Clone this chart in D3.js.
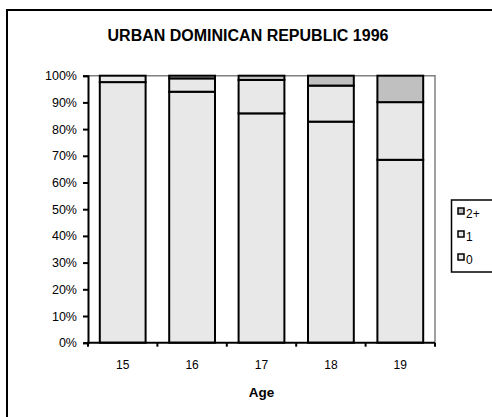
<!DOCTYPE html>
<html>
<head>
<meta charset="utf-8">
<script src="https://cdn.jsdelivr.net/npm/d3@7/dist/d3.min.js"></script>
<style>
  html, body { margin: 0; padding: 0; background: #fff; }
  svg { display: block; font-family: "Liberation Sans", Arial, sans-serif; }
</style>
</head>
<body>
<svg id="chart" width="492" height="417"></svg>
<script>
// Share of women by number of children, per age
const ages = ["15", "16", "17", "18", "19"];
const seriesNames = ["0", "1", "2+"];
const zero = [97.6, 94.0, 85.9, 82.8, 68.5];
const one = [2.4, 5.0, 12.5, 13.5, 21.6];
const twoPlus = [0.0, 1.0, 1.6, 3.7, 9.9];
const yTicks = [0, 10, 20, 30, 40, 50, 60, 70, 80, 90, 100];
const fills = { "0": "#e8e8e8", "1": "#e8e8e8", "2+": "#c0c0c0" };

const rows = ages.map((a, i) => ({ age: a, "0": zero[i], "1": one[i], "2+": twoPlus[i] }));
const stacked = d3.stack().keys(seriesNames)(rows);

const svg = d3.select("#chart");
const plot = { left: 88, right: 435, top: 75.7, bottom: 342.7 };

// outer frame (runs past the right and bottom edges)
svg.append("rect")
  .attr("x", 7).attr("y", 10).attr("width", 520).attr("height", 440)
  .attr("fill", "none").attr("stroke", "#000").attr("stroke-width", 2);

svg.append("text")
  .attr("x", 248).attr("y", 41)
  .attr("text-anchor", "middle")
  .attr("font-size", 16).attr("font-weight", "bold")
  .text("URBAN DOMINICAN REPUBLIC 1996");

const x = d3.scaleBand().domain(ages)
  .range([plot.left, plot.right])
  .paddingInner(0.34).paddingOuter(0.17);
const y = d3.scaleLinear().domain([0, 100]).range([plot.bottom, plot.top]);

// plot area border on top and right
svg.append("path")
  .attr("d", `M${plot.left},${plot.top}H${plot.right}V${plot.bottom}`)
  .attr("fill", "none").attr("stroke", "#808080").attr("stroke-width", 1.5);

// stacked bars
svg.append("g").selectAll("g")
  .data(stacked).join("g")
  .attr("fill", d => fills[d.key])
  .selectAll("rect")
  .data(d => d).join("rect")
  .attr("x", d => x(d.data.age))
  .attr("width", x.bandwidth())
  .attr("y", d => y(d[1]))
  .attr("height", d => y(d[0]) - y(d[1]))
  .attr("stroke", "#000").attr("stroke-width", 2);

// y axis
const yAxis = svg.append("g")
  .attr("transform", `translate(${plot.left},0)`)
  .call(d3.axisLeft(y).tickValues(yTicks).tickFormat(d => d + "%").tickSize(5).tickPadding(6));
yAxis.select(".domain").attr("stroke", "#000").attr("stroke-width", 2);
yAxis.selectAll(".tick line").attr("stroke", "#000").attr("stroke-width", 2);
yAxis.selectAll("text").attr("font-size", 12.5).attr("fill", "#000")
  .attr("font-family", "Liberation Sans, Arial, sans-serif");

// x axis: ticks sit between categories
const boundaries = d3.range(ages.length + 1).map(i => plot.left + i * (plot.right - plot.left) / ages.length);
const xAxisG = svg.append("g");
xAxisG.append("line")
  .attr("x1", plot.left - 1).attr("x2", plot.right)
  .attr("y1", plot.bottom).attr("y2", plot.bottom)
  .attr("stroke", "#000").attr("stroke-width", 2);
xAxisG.selectAll("line.tk").data(boundaries).join("line")
  .attr("class", "tk")
  .attr("x1", d => d).attr("x2", d => d)
  .attr("y1", plot.bottom).attr("y2", plot.bottom + 4)
  .attr("stroke", "#000").attr("stroke-width", 2);
xAxisG.selectAll("text").data(ages).join("text")
  .attr("x", d => x(d) + x.bandwidth() / 2)
  .attr("y", 369)
  .attr("text-anchor", "middle")
  .attr("font-size", 12)
  .text(d => d);

svg.append("text")
  .attr("x", (plot.left + plot.right) / 2).attr("y", 397)
  .attr("text-anchor", "middle")
  .attr("font-size", 13.5).attr("font-weight", "bold")
  .text("Age");

// legend
const legend = svg.append("g");
legend.append("rect")
  .attr("x", 451.5).attr("y", 200).attr("width", 60).attr("height", 72)
  .attr("fill", "#fff").attr("stroke", "#000").attr("stroke-width", 1.5);
const legendOrder = seriesNames.slice().reverse();
const item = legend.selectAll("g.item").data(legendOrder).join("g")
  .attr("class", "item")
  .attr("transform", (d, i) => `translate(458,${208 + i * 23})`);
item.append("rect")
  .attr("width", 6).attr("height", 6)
  .attr("fill", d => fills[d]).attr("stroke", "#000").attr("stroke-width", 1.5);
item.append("text")
  .attr("x", 8).attr("y", 9.5)
  .attr("font-size", 12)
  .text(d => d);
</script>
</body>
</html>
